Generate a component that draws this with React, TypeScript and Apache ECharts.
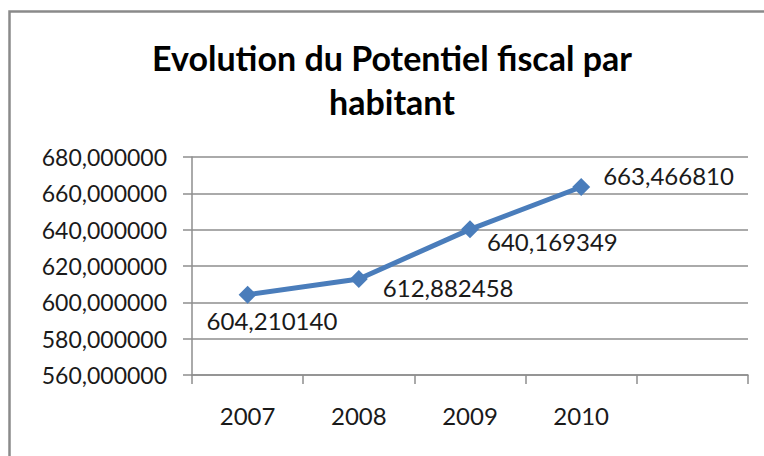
import React, { useEffect, useRef } from "react";
import * as echarts from "echarts";

const titleLines = ["Evolution du Potentiel fiscal par", "habitant"];
const categories = ["2007", "2008", "2009", "2010", ""];
const values = [604.21014, 612.882458, 640.169349, 663.46681];
const yMin = 560;
const yMax = 680;
const yStep = 20;

// label placement relative to each marker (style only)
const labelOffsets: [number, number][] = [
  [-41, 26],
  [24, 9],
  [17, 12],
  [22, -12],
];

const fmt = (v: number) => v.toFixed(6).replace(".", ",");

export default function App() {
  const ref = useRef<HTMLDivElement>(null);
  useEffect(() => {
    if (!ref.current) return;
    const chart = echarts.init(ref.current, null, { renderer: "svg" });
    const font = "Lato, 'Open Sans', sans-serif";
    const textColor = "#1a1a1a";
    const gridColor = "#8e8e8e";
    chart.setOption({
      animation: false,
      backgroundColor: "#ffffff",
      graphic: [
        {
          type: "polyline",
          shape: { points: [[9.5, 470], [9.5, 11.5], [780, 11.5]] },
          style: { fill: "none", stroke: "#8a8a8a", lineWidth: 2.5 },
          z: 10,
        },
        {
          type: "text",
          x: 392,
          y: 57,
          style: {
            text: titleLines[0],
            font: `bold 34px ${font}`,
            fill: "#000",
            align: "center",
            verticalAlign: "middle",
          },
        },
        {
          type: "text",
          x: 392,
          y: 101,
          style: {
            text: titleLines[1],
            font: `bold 34px ${font}`,
            fill: "#000",
            align: "center",
            verticalAlign: "middle",
          },
        },
      ],
      grid: {
        left: 192,
        right: 16,
        top: 157,
        bottom: 81,
        containLabel: false,
        outerBoundsMode: "none",
      },
      xAxis: {
        type: "category",
        data: categories,
        boundaryGap: true,
        axisLine: { show: true, lineStyle: { color: gridColor, width: 1.5 } },
        axisTick: {
          show: true,
          alignWithLabel: false,
          interval: 0,
          length: 9,
          lineStyle: { color: gridColor, width: 1.5 },
        },
        axisLabel: {
          interval: 0,
          margin: 28,
          color: textColor,
          fontFamily: font,
          fontSize: 24,
        },
        splitLine: { show: false },
      },
      yAxis: {
        type: "value",
        min: yMin,
        max: yMax,
        interval: yStep,
        axisLine: { show: true, lineStyle: { color: gridColor, width: 1.5 } },
        axisTick: { show: true, length: 9, lineStyle: { color: gridColor, width: 1.5 } },
        axisLabel: {
          margin: 25,
          color: textColor,
          fontFamily: font,
          fontSize: 23,
          formatter: (v: number) => fmt(v),
        },
        splitLine: { show: true, lineStyle: { color: gridColor, width: 1.5 } },
      },
      series: [
        {
          type: "line",
          data: values.map((v, i) => ({
            value: v,
            label: {
              offset: labelOffsets[i],
            },
          })),
          symbol: "diamond",
          symbolSize: 18,
          lineStyle: { color: "#4a7dbb", width: 5 },
          itemStyle: { color: "#4a7dbb" },
          label: {
            show: true,
            position: "inside",
            align: "left",
            verticalAlign: "middle",
            color: textColor,
            fontFamily: font,
            fontSize: 24,
            formatter: (p: any) => fmt(p.value),
          },
        },
      ],
    });
    return () => chart.dispose();
  }, []);
  return (
    <div
      ref={ref}
      style={{ position: "absolute", left: 0, top: 0, width: 764, height: 456 }}
    />
  );
}
